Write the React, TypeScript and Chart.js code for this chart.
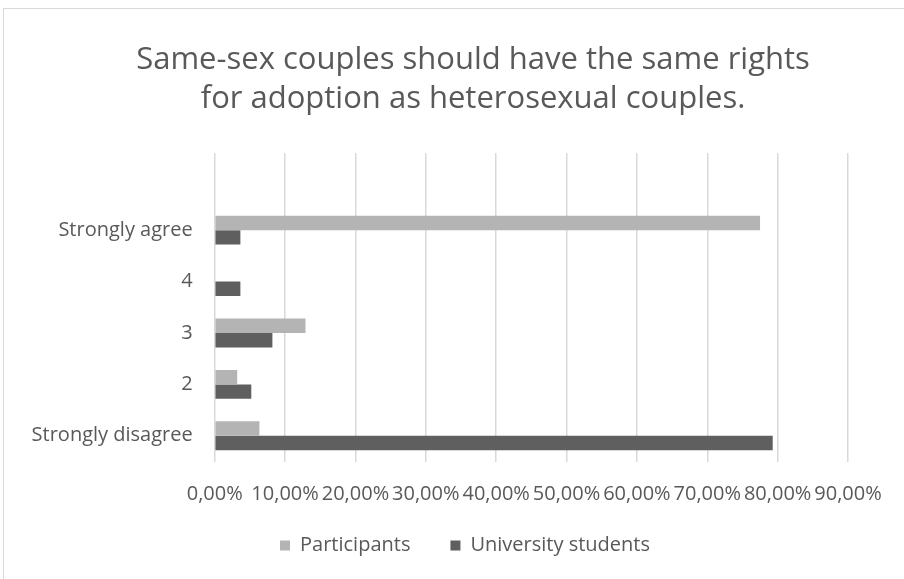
import React, { useEffect, useRef } from "react";
import { Chart, registerables } from "chart.js";

Chart.register(...registerables);

const titleLines = [
  "Same-sex couples should have the same rights",
  "for adoption as heterosexual couples.",
];
const categories = ["", "Strongly agree", "4", "3", "2", "Strongly disagree"];
const participants = [null, 77.5, 0, 12.9, 3.2, 6.35];
const universityStudents = [null, 3.65, 3.65, 8.2, 5.2, 79.3];
const seriesNames = ["Participants", "University students"];
const xTicks = [0, 10, 20, 30, 40, 50, 60, 70, 80, 90];

const FONT = "'Open Sans', sans-serif";
const TEXT = "#595959";

const shiftBoxes = {
  id: "shiftBoxes",
  afterLayout(chart: any) {
    const t = chart.titleBlock;
    if (t) {
      t.left = 42;
      t.right = 904;
      t.width = t.right - t.left;
    }
    const l = chart.legend;
    if (l) {
      l.left = 26;
      l.right = 904;
      l.width = l.right - l.left;
      const h = l.height;
      l.top = 495.5;
      l.bottom = l.top + h;
    }
  },
};

export default function App() {
  const ref = useRef<HTMLCanvasElement | null>(null);

  useEffect(() => {
    if (!ref.current) return;
    const chart = new Chart(ref.current, {
      type: "bar",
      data: {
        labels: categories,
        datasets: [
          {
            label: seriesNames[0],
            data: participants,
            backgroundColor: "#b4b4b4",
            borderWidth: 0,
          },
          {
            label: seriesNames[1],
            data: universityStudents,
            backgroundColor: "#5f5f5f",
            borderWidth: 0,
          },
        ],
      },
      plugins: [shiftBoxes],
      options: {
        indexAxis: "y",
        animation: false,
        responsive: false,
        maintainAspectRatio: false,
        datasets: {
          bar: { categoryPercentage: 0.563, barPercentage: 1 },
        },
        layout: { padding: { left: 10, right: 56, top: 0, bottom: 0 } },
        scales: {
          x: {
            min: 0,
            max: 90,
            afterBuildTicks: (axis: any) => {
              axis.ticks = xTicks.map((v) => ({ value: v }));
            },
            afterFit: (axis: any) => {
              axis.height = 43.5;
            },
            ticks: {
              autoSkip: false,
              maxRotation: 0,
              minRotation: 0,
              padding: 21,
              color: TEXT,
              font: { family: FONT, size: 20 },
              callback: (v: any) => Number(v).toFixed(2).replace(".", ",") + "%",
            },
            grid: { color: "#d9d9d9", lineWidth: 1.5, drawTicks: false },
            border: { display: false },
          },
          y: {
            afterFit: (axis: any) => {
              axis.width = 204.7;
            },
            ticks: {
              padding: 22,
              color: TEXT,
              font: { family: FONT, size: 20 },
            },
            grid: { display: false, drawTicks: false },
            border: { display: false },
          },
        },
        plugins: {
          title: {
            display: true,
            text: titleLines,
            color: TEXT,
            font: { family: FONT, size: 31, weight: "normal", lineHeight: 1.25 },
            padding: { top: 40.6, bottom: 34.9 },
          },
          legend: {
            position: "bottom",
            labels: {
              boxWidth: 10,
              boxHeight: 10,
              padding: 40,
              color: TEXT,
              font: { family: FONT, size: 20 },
            },
          },
          tooltip: { enabled: false },
        },
      },
    });
    return () => chart.destroy();
  }, []);

  return (
    <div
      style={{
        position: "fixed",
        left: 0,
        top: 0,
        width: 904,
        height: 579,
        overflow: "hidden",
        background: "#ffffff",
      }}
    >
      <canvas ref={ref} width={904} height={575} style={{ display: "block" }} />
      <div
        style={{
          position: "absolute",
          left: 3,
          top: 8,
          width: 1000,
          height: 1000,
          border: "1px solid #d9d9d9",
          pointerEvents: "none",
        }}
      />
    </div>
  );
}
